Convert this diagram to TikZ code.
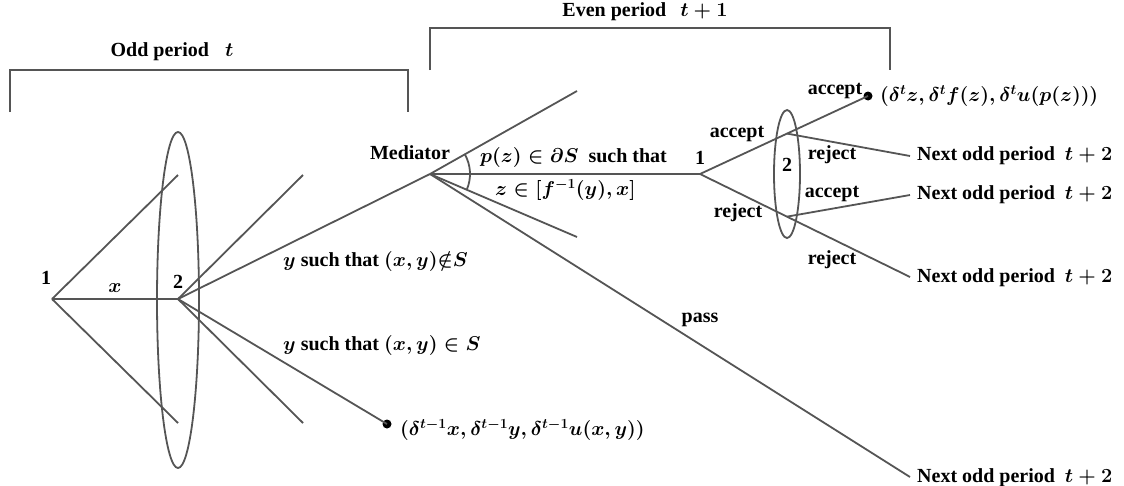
\RequirePackage{fix-cm}
\documentclass[tikz,border=0pt]{standalone}
\usepackage{fontspec}
\setmainfont{Liberation Serif}
\usetikzlibrary{calc}
\definecolor{lc}{RGB}{85,85,85}
\begin{document}
\begin{tikzpicture}[x=1pt,y=-1pt,
  ln/.style={draw=lc,line width=1.8pt},
  lbl/.style={inner sep=0pt,font=\fontsize{20}{23}\selectfont\bfseries\boldmath},
  dotnode/.style={circle,fill=black,inner sep=0pt,minimum size=9pt}]
\useasboundingbox (0,0) rectangle (1124,485);
% brackets
\coordinate (ob1) at (10,112); \coordinate (ob2) at (10,70);
\coordinate (ob3) at (408,70); \coordinate (ob4) at (408,112);
\draw[ln] (ob1) -- (ob2) -- (ob3) -- (ob4);
\coordinate (eb1) at (430,70); \coordinate (eb2) at (430,28);
\coordinate (eb3) at (890,28); \coordinate (eb4) at (890,70);
\draw[ln] (eb1) -- (eb2) -- (eb3) -- (eb4);
\node[lbl] (oddl) at (172,52) {Odd period\hspace{0.8em}$t$};
\node[lbl] (evenl) at (645,12) {Even period\hspace{0.7em}$t+1$};
% odd period tree
\coordinate (p1) at (52,299);
\coordinate (p2) at (178,299);
\coordinate (a1) at (178,175); \coordinate (a2) at (178,423);
\coordinate (b1) at (303,175); \coordinate (b2) at (303,423);
\coordinate (med) at (430,174);
\node[dotnode] (d1) at (387,424) {};
\draw[ln] (p1) -- (a1);
\draw[ln] (p1) -- (p2);
\draw[ln] (p1) -- (a2);
\draw[ln] (p2) -- (b1);
\draw[ln] (p2) -- (med);
\draw[ln] (p2) -- (b2);
\draw[ln] (p2) -- (d1.center);
\draw[ln] (178,300) ellipse [x radius=21pt, y radius=168pt];
\node[lbl] (l1) at (46,278) {1};
\node[lbl] (l2) at (178,282) {2};
\node[lbl] (lx) at (115,288) {$x$};
\node[lbl,anchor=west] (ly1) at (283,261) {$y$ such that $(x,y){\notin}S$};
\node[lbl,anchor=west] (ly2) at (283,345) {$y$ such that $(x,y)\in S$};
\node[lbl,anchor=west] (pay1) at (400,430) {$(\delta^{t-1}x,\delta^{t-1}y,\delta^{t-1}u(x,y))$};
% mediator
\coordinate (m1) at (577,91); \coordinate (m2) at (577,237);
\coordinate (q1) at (700,174);
\coordinate (n4) at (910,477);
\draw[ln] (med) -- (m1);
\draw[ln] (med) -- (q1);
\draw[ln] (med) -- (m2);
\draw[ln] (med) -- (n4);
\draw[ln] ($(med)+(-29.5:40)$) arc[start angle=29.5,end angle=-23.2,radius=40pt];
\node[lbl] (lmed) at (410,153) {Mediator};
\node[lbl,anchor=west] (lp) at (480,157) {$p(z)\in\partial S$\ \ such that};
\node[lbl,anchor=west] (lz) at (495,190) {$z\in[f^{-1}(y),x]$};
\node[lbl] (lpass) at (700,320) {pass};
% even period tree
\node[dotnode] (d2) at (868,96) {};
\coordinate (r1) at (910,277);
\coordinate (q2a) at ($(q1)!0.518!(d2.center)$);
\coordinate (q2b) at ($(q1)!0.414!(r1)$);
\coordinate (n1) at (910,156); \coordinate (n2) at (910,195);
\draw[ln] (q1) -- (d2.center);
\draw[ln] (q1) -- (r1);
\draw[ln] (q2a) -- (n1);
\draw[ln] (q2b) -- (n2);
\draw[ln] (787,174) ellipse [x radius=13pt, y radius=64pt];
\node[lbl] (lq1) at (700,158) {1};
\node[lbl] (lq2) at (787,165) {2};
\node[lbl] (acc0) at (835,91) {accept};
\node[lbl,anchor=west] (pay2) at (880,96) {$(\delta^t z,\delta^t f(z),\delta^t u(p(z)))$};
\node[lbl] (acc1) at (737,134) {accept};
\node[lbl] (rej1) at (832,155) {reject};
\node[lbl] (acc2) at (832,194) {accept};
\node[lbl] (rej2) at (738,213) {reject};
\node[lbl] (rej3) at (832,260) {reject};
\node[lbl,anchor=west] (nx1) at (917,156) {Next odd period\hspace{0.5em}$t+2$};
\node[lbl,anchor=west] (nx2) at (917,195) {Next odd period\hspace{0.5em}$t+2$};
\node[lbl,anchor=west] (nx3) at (917,278) {Next odd period\hspace{0.5em}$t+2$};
\node[lbl,anchor=west] (nx4) at (917,478) {Next odd period\hspace{0.5em}$t+2$};
\end{tikzpicture}
\end{document}
